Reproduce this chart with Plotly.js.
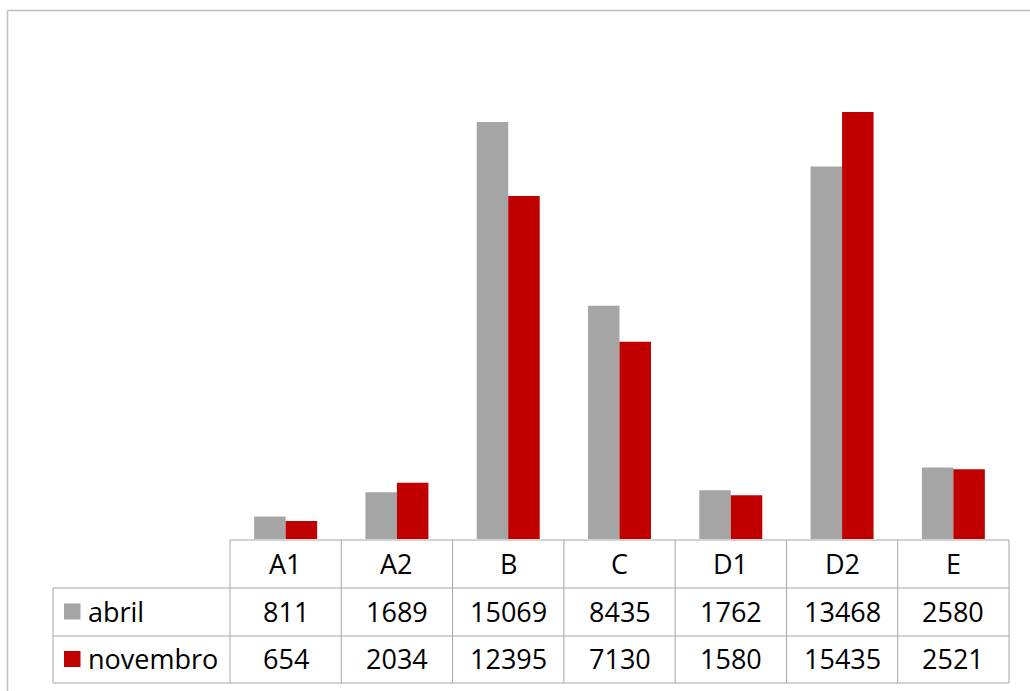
<!DOCTYPE html>
<html>
<head>
<meta charset="utf-8">
<script src="https://cdn.plot.ly/plotly-3.0.1.min.js"></script>
<style>
  html, body { margin: 0; padding: 0; background: #ffffff; }
  #chart { width: 1030px; height: 691px; }
</style>
</head>
<body>
<div id="chart"></div>
<script>
const categories = ["A1", "A2", "B", "C", "D1", "D2", "E"];
const seriesNames = ["abril", "novembro"];
const abril = [811, 1689, 15069, 8435, 1762, 13468, 2580];
const novembro = [654, 2034, 12395, 7130, 1580, 15435, 2521];
const seriesValues = [abril, novembro];
const seriesColors = ["#A5A5A5", "#C00000"];

const W = 1030, H = 691;
const plotL = 230, plotR = 1009, plotT = 41, plotB = 539;
const pw = plotR - plotL, ph = plotB - plotT;
const px = x => (x - plotL) / pw;
const py = y => (plotB - y) / ph;

const font = "Open Sans, Noto Sans, Liberation Sans, sans-serif";
const fontSize = 27;
const lineColor = "#A6A6A6";
const textShift = -1;

const traces = seriesNames.map((name, i) => ({
  type: "bar",
  name: name,
  x: categories,
  y: seriesValues[i],
  marker: { color: seriesColors[i], line: { width: 0 } },
  hoverinfo: "x+y+name"
}));

const shapes = [];
const annotations = [];
const line = (x0, y0, x1, y1, color, w) => shapes.push({
  type: "line", xref: "paper", yref: "paper",
  x0: px(x0), y0: py(y0), x1: px(x1), y1: py(y1),
  line: { color: color || lineColor, width: w || 1 }
});

// outer chart frame (left and top visible)
line(7.5, 10.5, 1040, 10.5, "#BFBFBF", 1.5);
line(7.5, 10.5, 7.5, 700, "#BFBFBF", 1.5);

// table rows
const rowTop = 540, row1 = 588, row2 = 636, rowBot = 683, tableLeft = 53;
line(plotL, rowTop, plotR, rowTop);
line(tableLeft, row1, plotR, row1);
line(tableLeft, row2, plotR, row2);
line(tableLeft, rowBot, plotR, rowBot);
line(tableLeft, row1, tableLeft, rowBot);
const cw = pw / categories.length;
for (let k = 0; k <= categories.length; k++) {
  const x = plotL + k * cw;
  line(x, rowTop, x, rowBot);
}

// header labels and values
const rowCenters = [(row1 + row2) / 2, (row2 + rowBot) / 2];
categories.forEach((c, i) => {
  annotations.push({
    x: c, xref: "x", y: py((rowTop + row1) / 2 + textShift), yref: "paper",
    text: c, showarrow: false, xanchor: "center", yanchor: "middle",
    font: { family: font, size: fontSize, color: "#000000" }
  });
  seriesValues.forEach((vals, s) => {
    annotations.push({
      x: c, xref: "x", y: py(rowCenters[s] + textShift), yref: "paper",
      text: String(vals[i]), showarrow: false, xanchor: "center", yanchor: "middle",
      font: { family: font, size: fontSize, color: "#000000" }
    });
  });
});

// legend keys in table
seriesNames.forEach((name, s) => {
  const cy = rowCenters[s];
  shapes.push({
    type: "rect", xref: "paper", yref: "paper",
    x0: px(64), x1: px(80.5), y0: py(cy - 8.5), y1: py(cy + 7.5),
    fillcolor: seriesColors[s], line: { width: 0 }
  });
  annotations.push({
    x: px(86), xref: "paper", y: py(cy + textShift), yref: "paper",
    text: name, showarrow: false, xanchor: "left", yanchor: "middle",
    font: { family: font, size: fontSize, color: "#000000" }
  });
});

const layout = {
  width: W, height: H,
  margin: { l: plotL, r: W - plotR, t: plotT, b: H - plotB, pad: 0 },
  paper_bgcolor: "#ffffff",
  plot_bgcolor: "#ffffff",
  barmode: "group",
  bargap: 0.434,
  bargroupgap: 0,
  showlegend: false,
  xaxis: {
    type: "category", showticklabels: false, ticks: "", showgrid: false,
    zeroline: false, showline: false, fixedrange: true
  },
  yaxis: {
    range: [0, 18000], showticklabels: false, ticks: "", showgrid: false,
    zeroline: false, showline: false, fixedrange: true
  },
  shapes: shapes,
  annotations: annotations
};

Plotly.newPlot("chart", traces, layout, { displayModeBar: false, staticPlot: true });
</script>
</body>
</html>
